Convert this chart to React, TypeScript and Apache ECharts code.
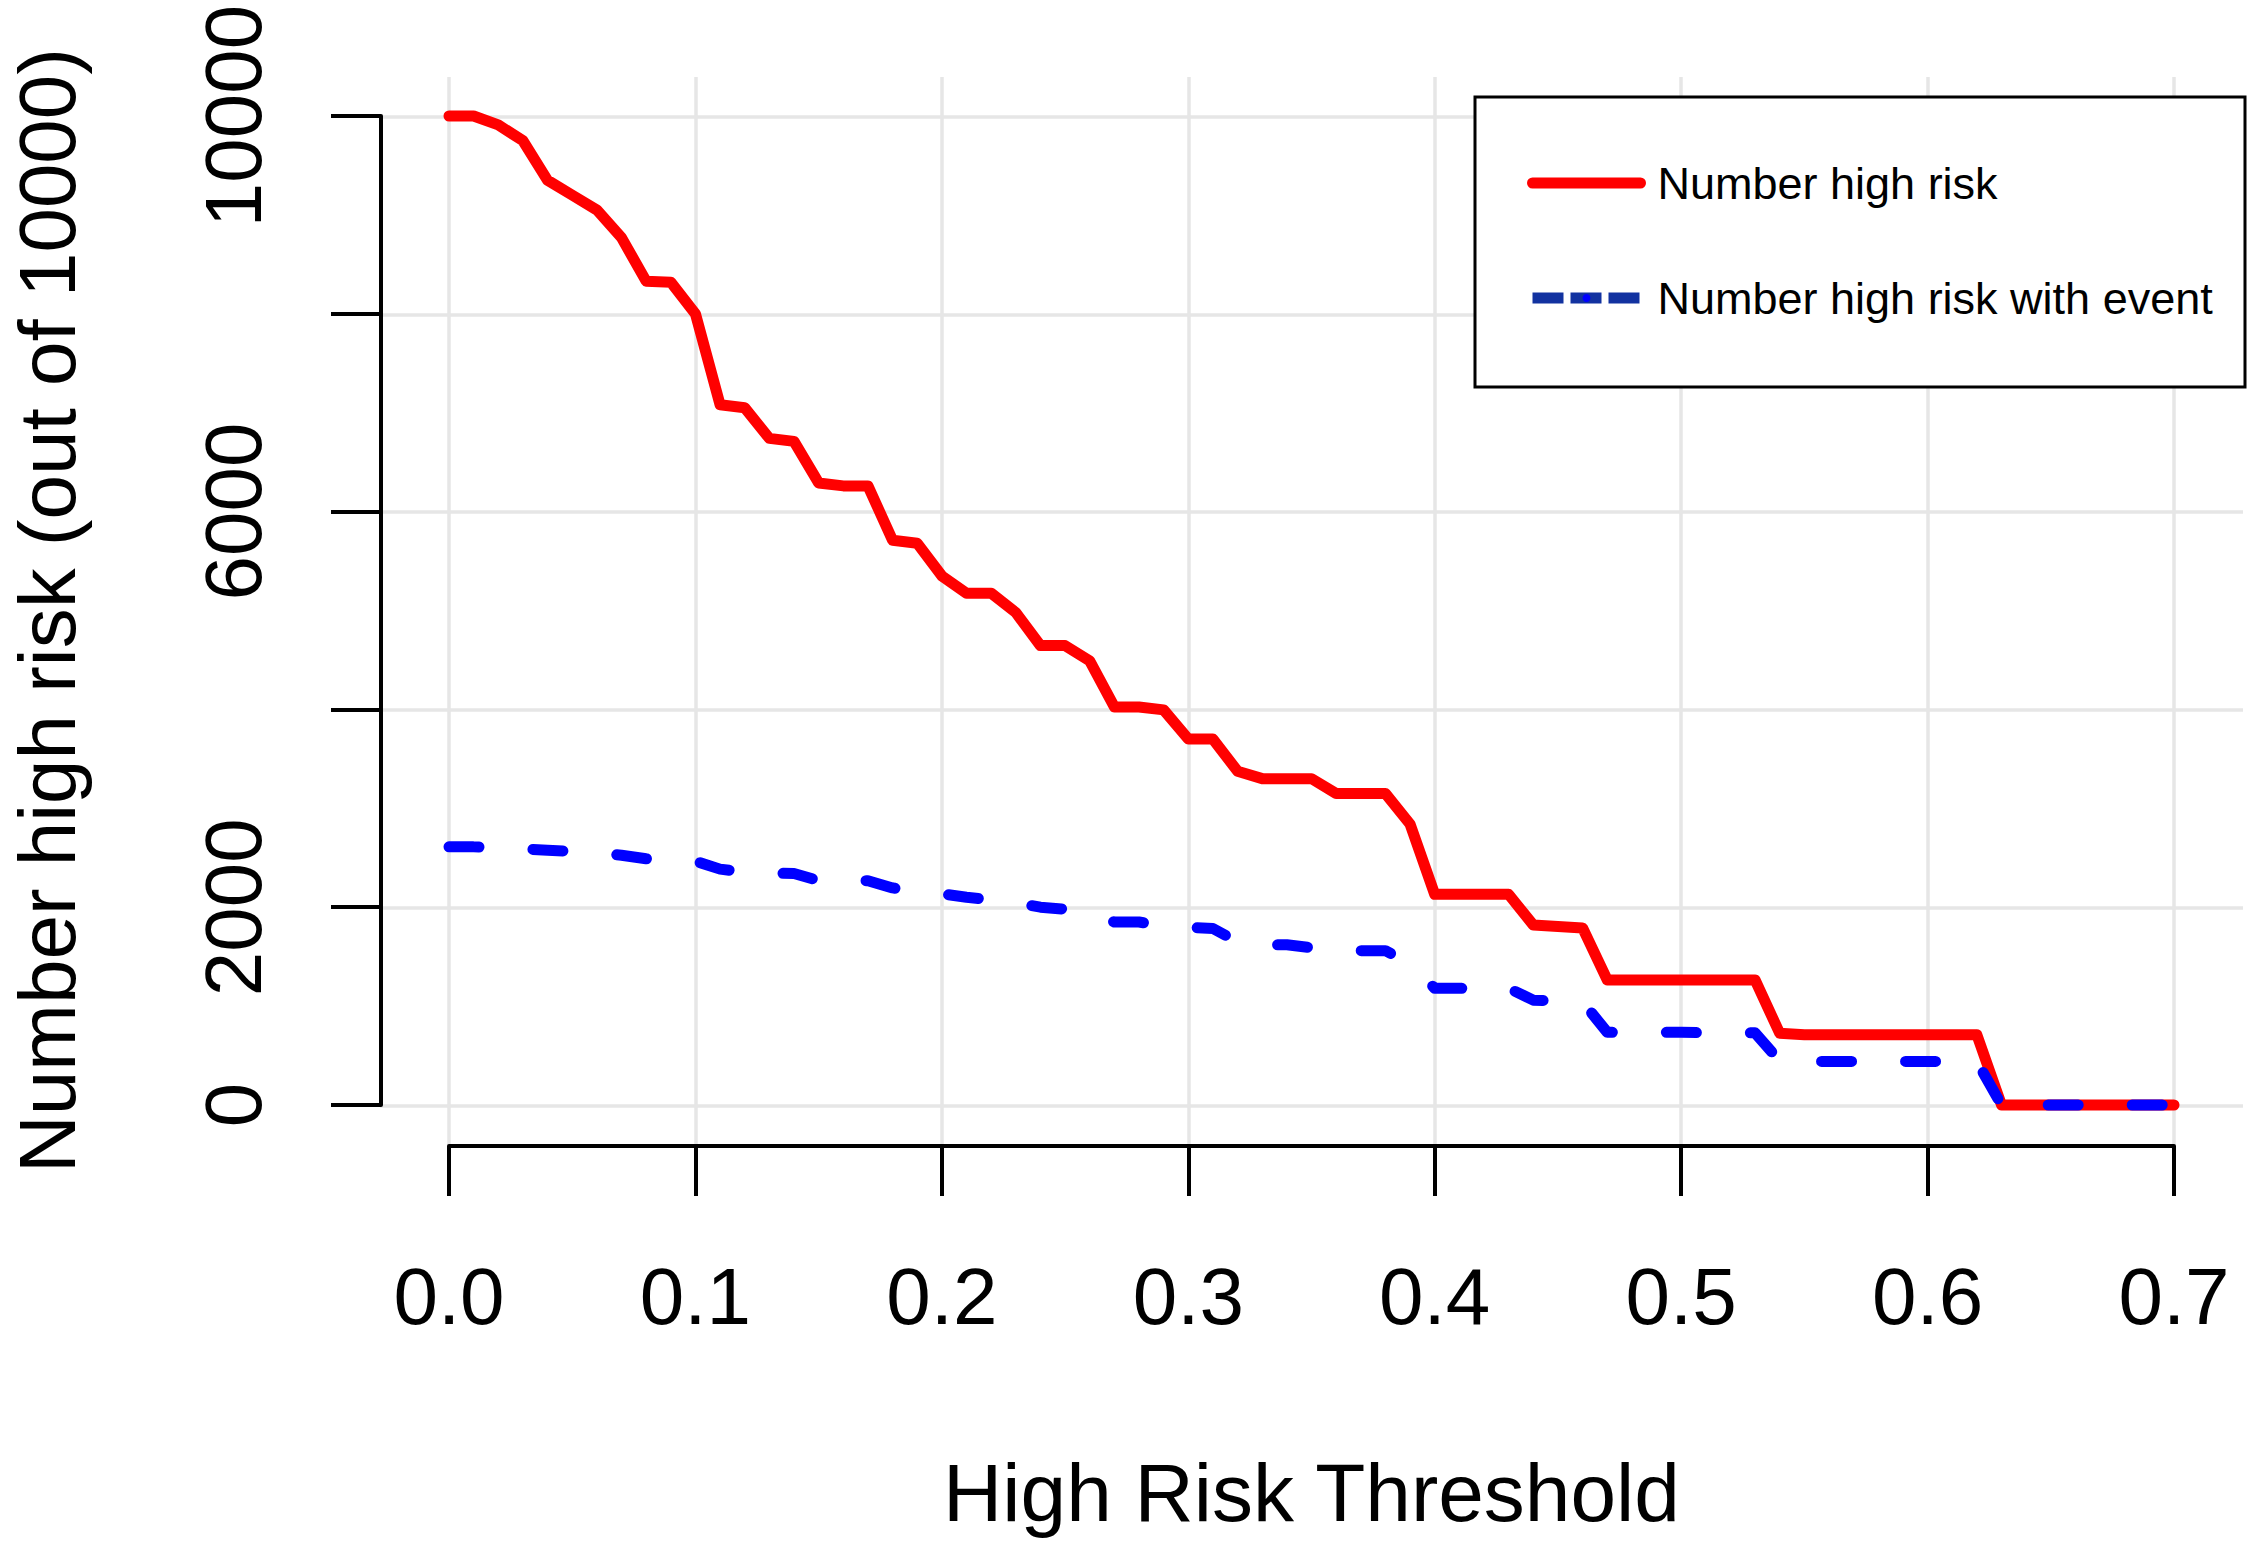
import React, { useEffect, useRef } from "react";
import * as echarts from "echarts";

const thresholds = [
  0.0, 0.01, 0.02, 0.03, 0.04, 0.05, 0.06, 0.07, 0.08, 0.09,
  0.1, 0.11, 0.12, 0.13, 0.14, 0.15, 0.16, 0.17, 0.18, 0.19,
  0.2, 0.21, 0.22, 0.23, 0.24, 0.25, 0.26, 0.27, 0.28, 0.29,
  0.3, 0.31, 0.32, 0.33, 0.34, 0.35, 0.36, 0.37, 0.38, 0.39,
  0.4, 0.41, 0.42, 0.43, 0.44, 0.45, 0.46, 0.47, 0.48, 0.49,
  0.5, 0.51, 0.52, 0.53, 0.54, 0.55, 0.56, 0.57, 0.58, 0.59,
  0.6, 0.61, 0.62, 0.63, 0.64, 0.65, 0.66, 0.67, 0.68, 0.69,
  0.7,
];

const numberHighRisk = [
  10000, 10000, 9910, 9750, 9350, 9200, 9050, 8770, 8330, 8320,
  8000, 7080, 7050, 6740, 6710, 6290, 6260, 6260, 5710, 5680,
  5350, 5175, 5175, 4980, 4645, 4645, 4490, 4025, 4025, 3995,
  3700, 3700, 3375, 3300, 3300, 3300, 3150, 3150, 3150, 2840,
  2130, 2130, 2130, 2130, 1820, 1805, 1790, 1265, 1265, 1265,
  1265, 1265, 1265, 1265, 725, 710, 710, 710, 710, 710,
  710, 710, 710, 0, 0, 0, 0, 0, 0, 0,
  0,
];

const numberHighRiskWithEvent = [
  2610, 2610, 2600, 2590, 2575, 2565, 2550, 2525, 2490, 2475,
  2465, 2385, 2355, 2345, 2340, 2270, 2270, 2268, 2195, 2160,
  2135, 2100, 2075, 2045, 2000, 1980, 1950, 1850, 1850, 1810,
  1795, 1785, 1650, 1620, 1620, 1590, 1560, 1560, 1560, 1430,
  1180, 1180, 1180, 1180, 1060, 1050, 1045, 735, 735, 735,
  735, 730, 730, 730, 445, 440, 440, 440, 440, 440,
  440, 440, 440, 0, 0, 0, 0, 0, 0, 0,
  0,
];

const yLabelValues = [0, 2000, 6000, 10000];

const seriesNames = ["Number high risk", "Number high risk with event"];
const xTitle = "High Risk Threshold";
const yTitle = "Number high risk (out of 10000)";

const FONT = "Liberation Sans";

export default function App() {
  const ref = useRef<HTMLDivElement>(null);

  useEffect(() => {
    if (!ref.current) return;
    const chart = echarts.init(ref.current, undefined, { renderer: "svg" });
    const axisLineStyle = { color: "#000", width: 4 };
    const gridLineStyle = { color: "#e6e6e6", width: 3.5 };

    chart.setOption({
      animation: false,
      backgroundColor: "#ffffff",
      textStyle: { fontFamily: FONT },
      grid: [
        {
          left: 449,
          right: 83,
          top: 116,
          bottom: 439,
          containLabel: false,
          outerBoundsMode: "none",
        },
        {
          left: 380,
          right: 14,
          top: 77,
          bottom: 399,
          containLabel: false,
          outerBoundsMode: "none",
        },
      ],
      xAxis: [
        {
          type: "value",
          gridIndex: 0,
          min: 0,
          max: 0.7,
          interval: 0.1,
          offset: 41,
          name: xTitle,
          nameLocation: "middle",
          nameGap: 346,
          nameTextStyle: {
            fontSize: 82,
            color: "#000",
            fontFamily: FONT,
            verticalAlign: "middle",
          },
          axisLine: { show: true, onZero: false, lineStyle: axisLineStyle },
          axisTick: { show: true, length: 50, inside: false, lineStyle: axisLineStyle },
          axisLabel: {
            show: true,
            margin: 150,
            fontSize: 80,
            color: "#000",
            fontFamily: FONT,
            verticalAlign: "middle",
            formatter: (v: number) => v.toFixed(1),
          },
          splitLine: { show: false },
        },
        {
          type: "value",
          gridIndex: 1,
          min: -0.028,
          max: 0.728,
          minInterval: 0.1,
          maxInterval: 0.1,
          axisLine: { show: false },
          axisTick: { show: false },
          axisLabel: { show: false },
          splitLine: {
            show: true,
            showMinLine: false,
            showMaxLine: false,
            lineStyle: gridLineStyle,
          },
        },
      ],
      yAxis: [
        {
          type: "value",
          gridIndex: 0,
          min: 0,
          max: 10000,
          interval: 2000,
          offset: 68,
          name: yTitle,
          nameLocation: "middle",
          nameRotate: 90,
          nameGap: 334,
          nameTextStyle: {
            fontSize: 80,
            lineHeight: 64,
            color: "#000",
            fontFamily: FONT,
            verticalAlign: "middle",
            align: "center",
          },
          axisLine: { show: true, onZero: false, lineStyle: axisLineStyle },
          axisTick: { show: true, length: 50, inside: false, lineStyle: axisLineStyle },
          axisLabel: {
            show: true,
            rotate: 90,
            margin: 148,
            fontSize: 80,
            color: "#000",
            fontFamily: FONT,
            align: "center",
            verticalAlign: "middle",
            formatter: (v: number) => (yLabelValues.includes(v) ? String(v) : ""),
          },
          splitLine: { show: false },
        },
        {
          type: "value",
          gridIndex: 1,
          min: -400,
          max: 10400,
          minInterval: 2000,
          maxInterval: 2000,
          axisLine: { show: false },
          axisTick: { show: false },
          axisLabel: { show: false },
          splitLine: {
            show: true,
            showMinLine: false,
            showMaxLine: false,
            lineStyle: gridLineStyle,
          },
        },
      ],
      legend: {
        show: true,
        orient: "vertical",
        left: 1527,
        top: 160,
        padding: 0,
        itemWidth: 108,
        itemHeight: 10,
        itemGap: 69,
        z: 20,
        selectedMode: false,
        textStyle: {
          fontSize: 45,
          lineHeight: 46,
          color: "#000",
          fontFamily: FONT,
          padding: [0, 0, 0, 12],
        },
        data: [
          {
            name: seriesNames[0],
            lineStyle: { color: "#ff0000", width: 11, type: "solid", cap: "round" },
          },
          {
            name: seriesNames[1],
            lineStyle: { color: "#1232a0", width: 11, type: [31, 7], cap: "butt" },
          },
        ],
      },
      graphic: [
        {
          type: "rect",
          z: 10,
          shape: { x: 1475, y: 97, width: 770, height: 290 },
          style: { fill: "#ffffff", stroke: "#000000", lineWidth: 3 },
        },
      ],
      series: [
        {
          name: seriesNames[0],
          type: "line",
          xAxisIndex: 0,
          yAxisIndex: 0,
          data: thresholds.map((t, i) => [t, numberHighRisk[i]]),
          symbol: "none",
          showSymbol: false,
          clip: false,
          z: 3,
          lineStyle: { color: "#ff0000", width: 11, cap: "round", join: "round" },
          itemStyle: { color: "#ff0000" },
        },
        {
          name: seriesNames[1],
          type: "line",
          xAxisIndex: 0,
          yAxisIndex: 0,
          data: thresholds.map((t, i) => [t, numberHighRiskWithEvent[i]]),
          symbol: "none",
          showSymbol: false,
          clip: false,
          z: 4,
          lineStyle: {
            color: "#0000ff",
            width: 11,
            type: [30, 54],
            cap: "round",
            join: "round",
          },
          itemStyle: { color: "#0000ff" },
        },
      ],
    });

    return () => chart.dispose();
  }, []);

  return (
    <div
      ref={ref}
      style={{ position: "fixed", left: 0, top: 0, width: 2257, height: 1544, background: "#fff" }}
    />
  );
}
